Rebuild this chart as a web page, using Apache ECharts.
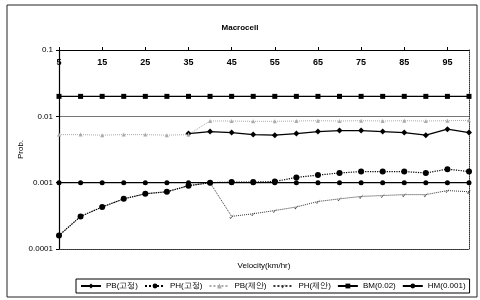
<!DOCTYPE html>
<html>
<head>
    <meta charset="utf-8">
    <title>Macrocell</title>
    <script src="https://cdn.jsdelivr.net/npm/echarts@6.0.0/dist/echarts.min.js"></script>
</head>
<body style="margin:0">
<div id="main" style="width: 480px;height:300px;"></div>
<script type="text/javascript">

    // 데이터
    let velocity = ['5', '10', '15', '20', '25', '30', '35', '40', '45', '50',
        '55', '60', '65', '70', '75', '80', '85', '90', '95', '100'];
    let pbFixed = [null, null, null, null, null, null, 0.0055, 0.0059, 0.0057, 0.0053,
        0.0052, 0.0055, 0.0059, 0.0061, 0.0061, 0.0059, 0.0057, 0.0052, 0.0064, 0.0057];
    let phFixed = [0.00016, 0.00031, 0.00043, 0.00057, 0.00068, 0.00073, 0.0009, 0.001, 0.00102, 0.00102,
        0.00104, 0.0012, 0.0013, 0.0014, 0.00147, 0.00147, 0.00147, 0.0014, 0.0016, 0.00147];
    let pbProp = [0.0053, 0.0053, 0.0052, 0.0053, 0.0053, 0.0052, 0.0053, 0.0085, 0.0085, 0.0084,
        0.0084, 0.0085, 0.0086, 0.0085, 0.0086, 0.0085, 0.0086, 0.0085, 0.0086, 0.0087];
    let phProp = [0.00016, 0.00031, 0.00043, 0.00057, 0.00068, 0.00073, 0.0009, 0.001, 0.00031, 0.00034,
        0.00038, 0.00043, 0.00052, 0.00057, 0.00062, 0.00064, 0.00066, 0.00066, 0.00076, 0.00073];
    let bm = [0.02, 0.02, 0.02, 0.02, 0.02, 0.02, 0.02, 0.02, 0.02, 0.02,
        0.02, 0.02, 0.02, 0.02, 0.02, 0.02, 0.02, 0.02, 0.02, 0.02];
    let hm = [0.001, 0.001, 0.001, 0.001, 0.001, 0.001, 0.001, 0.001, 0.001, 0.001,
        0.001, 0.001, 0.001, 0.001, 0.001, 0.001, 0.001, 0.001, 0.001, 0.001];

    let font = 'Liberation Sans';

    option = {
        animation: false,
        backgroundColor: '#fff',
        textStyle: { fontFamily: font, color: '#000' },
        title: {
            text: 'Macrocell',
            left: 'center',
            top: 19,
            textStyle: { fontSize: 8, fontWeight: 'bold', color: '#000', fontFamily: font }
        },
        graphic: [{
            type: 'rect',
            shape: { x: 7, y: 5, width: 470, height: 292 },
            style: { fill: 'none', stroke: '#222', lineWidth: 1 },
            silent: true
        }],
        legend: {
            bottom: 7,
            left: 76,
            itemWidth: 20,
            itemHeight: 6,
            itemGap: 6,
            padding: [3, 4],
            borderColor: '#000',
            borderWidth: 1,
            textStyle: { fontSize: 8, color: '#000', fontFamily: font },
            data: ['PB(고정)', 'PH(고정)', 'PB(제안)', 'PH(제안)', 'BM(0.02)', 'HM(0.001)']
        },
        grid: { left: 59, right: 11, top: 50, bottom: 51 },
        xAxis: [{
            type: 'category',
            position: 'top',
            boundaryGap: false,
            data: velocity,
            axisLine: { lineStyle: { color: '#000', width: 1.2 } },
            axisTick: { show: true, interval: 1, length: 3, lineStyle: { color: '#000' } },
            axisLabel: { inside: true, interval: 1, margin: 8, fontSize: 9, fontWeight: 'bold', color: '#000' }
        }, {
            type: 'category',
            position: 'bottom',
            boundaryGap: false,
            data: velocity,
            name: 'Velocity(km/hr)',
            nameLocation: 'middle',
            nameGap: 13,
            nameTextStyle: { fontSize: 8, color: '#000' },
            axisLine: { lineStyle: { color: '#333', type: 'dotted' } },
            axisTick: { show: false },
            axisLabel: { show: false }
        }],
        yAxis: [{
            type: 'log',
            logBase: 10,
            min: 0.0001,
            max: 0.1,
            name: 'Prob.',
            nameLocation: 'middle',
            nameGap: 34,
            nameMoveOverlap: false,
            nameRotate: 90,
            nameTextStyle: { fontSize: 8, color: '#000' },
            axisLine: { show: true, lineStyle: { color: '#000', width: 1.2 } },
            axisTick: { show: true, length: 3, lineStyle: { color: '#000' } },
            axisLabel: { fontSize: 8, color: '#000', margin: 6 },
            splitLine: { show: true, lineStyle: { color: '#777', width: 1 } }
        }, {
            type: 'log',
            logBase: 10,
            min: 0.0001,
            max: 0.1,
            position: 'right',
            axisLine: { show: true, lineStyle: { color: '#333', type: 'dotted' } },
            axisTick: { show: false },
            axisLabel: { show: false },
            splitLine: { show: false }
        }],
        series: [
            {
                name: 'PB(고정)', type: 'line', data: pbFixed,
                symbol: 'diamond', symbolSize: 6,
                lineStyle: { color: '#000', width: 1.3 },
                itemStyle: { color: '#000' }
            },
            {
                name: 'PH(고정)', type: 'line', data: phFixed, z: 4,
                symbol: 'circle', symbolSize: 6,
                lineStyle: { color: '#000', width: 1.2, type: 'dotted' },
                itemStyle: { color: '#000' }
            },
            {
                name: 'PB(제안)', type: 'line', data: pbProp,
                symbol: 'triangle', symbolSize: 4,
                lineStyle: { color: '#aaa', width: 1, type: 'dotted' },
                itemStyle: { color: '#aaa' }
            },
            {
                name: 'PH(제안)', type: 'line', data: phProp,
                symbol: 'path://M0,5 L3,9 L10,0 L3,7 Z', symbolSize: 5,
                lineStyle: { color: '#333', width: 1, type: 'dotted' },
                itemStyle: { color: '#333' }
            },
            {
                name: 'BM(0.02)', type: 'line', data: bm,
                symbol: 'rect', symbolSize: 5,
                lineStyle: { color: '#000', width: 1.2 },
                itemStyle: { color: '#000' }
            },
            {
                name: 'HM(0.001)', type: 'line', data: hm,
                symbol: 'circle', symbolSize: 5,
                lineStyle: { color: '#000', width: 1.2 },
                itemStyle: { color: '#000' }
            }
        ]
    };

    let myChart = echarts.init(document.getElementById('main'));
    myChart.setOption(option);
</script>
</body>
</html>
